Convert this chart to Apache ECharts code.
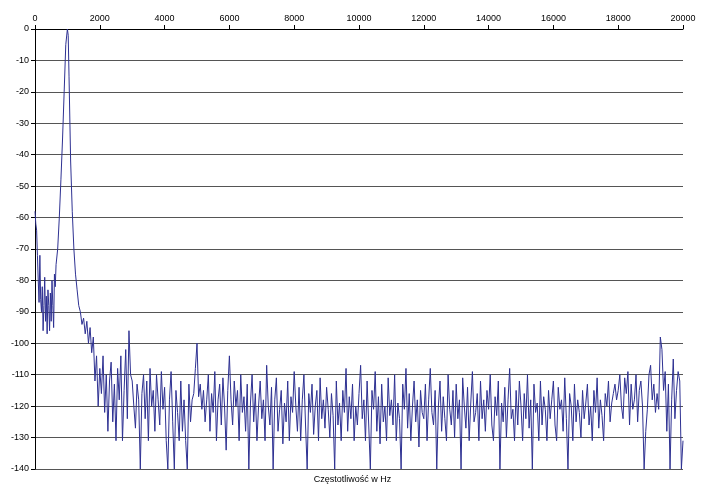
<!DOCTYPE html>
<html><head><meta charset="utf-8">
<script src="https://cdn.jsdelivr.net/npm/echarts@6/dist/echarts.min.js"></script>
<style>html,body{margin:0;padding:0;background:#fff}#c{width:705px;height:485px}</style>
</head><body><div id="c"></div>
<script>
const xTicks = [0,2000,4000,6000,8000,10000,12000,14000,16000,18000,20000];
const yTicks = [0,-10,-20,-30,-40,-50,-60,-70,-80,-90,-100,-110,-120,-130,-140];
// low-frequency section (Hz, dB)
const lowFreq = [0,25,50,75,100,125,150,175,200,225,250,275,300,325,350,375,400,425,450,475,500,525,550,575,600,625,650,700,750,800,850,900,950,1000,1025,1050,1100,1150,1200,1250,1300,1350,1400,1450,1500,1550,1600,1650,1700,1750,1800,1850,1900,1950];
const lowAmp = [-58,-62,-64,-72,-80,-87,-72,-86,-90,-82,-96,-88,-79,-93,-85,-97,-83,-88,-96,-84,-93,-80,-88,-95,-78,-82,-75,-70,-60,-48,-35,-20,-5,0,-2,-15,-42,-58,-70,-78,-83,-88,-90,-94,-92,-97,-93,-100,-95,-103,-98,-112,-104,-120];
// noise floor from 2000 Hz, step 50 Hz
const floorStart = 2000, floorStep = 50;
const floorAmp = [
-108,-116,-104,-122,-110,-128,-112,-106,-125,-113,-131,-108,-118,-104,-131,-115,-102,-124,-96,-110,
-112,-120,-127,-113,-118,-140,-116,-110,-124,-112,-131,-108,-120,-115,-128,-110,-118,-126,-109,-121,
-114,-131,-140,-118,-109,-125,-140,-115,-122,-131,-112,-128,-118,-131,-140,-113,-125,-118,-116,-108,
-100,-117,-113,-121,-115,-125,-118,-110,-128,-116,-122,-109,-131,-118,-113,-126,-111,-120,-134,-115,
-104,-118,-126,-112,-120,-115,-131,-110,-122,-117,-128,-113,-140,-119,-110,-125,-116,-131,-120,-112,
-124,-118,-131,-107,-120,-126,-114,-140,-118,-111,-128,-121,-115,-132,-119,-125,-112,-131,-117,-122,
-109,-120,-128,-114,-131,-118,-110,-126,-140,-116,-122,-113,-129,-120,-115,-131,-111,-124,-118,-127,
-114,-121,-130,-116,-123,-140,-112,-126,-119,-131,-115,-122,-108,-128,-117,-124,-113,-131,-120,-126,
-116,-107,-124,-118,-131,-112,-126,-140,-115,-121,-109,-128,-117,-132,-113,-125,-120,-131,-111,-123,
-118,-126,-110,-131,-119,-124,-140,-113,-121,-108,-127,-116,-131,-120,-112,-125,-118,-133,-115,-122,
-124,-113,-131,-118,-108,-122,-126,-115,-140,-120,-112,-128,-117,-124,-131,-110,-121,-126,-115,-130,
-113,-124,-118,-140,-111,-120,-127,-114,-131,-119,-109,-125,-122,-116,-131,-112,-124,-118,-128,-115,
-121,-110,-126,-131,-117,-123,-112,-140,-119,-125,-114,-130,-118,-108,-124,-121,-131,-115,-126,-112,
-120,-131,-116,-124,-110,-127,-118,-140,-113,-122,-119,-131,-112,-126,-117,-121,-131,-115,-124,-118,
-112,-126,-131,-114,-121,-118,-128,-111,-124,-140,-116,-120,-131,-113,-125,-118,-122,-130,-115,-124,
-119,-113,-126,-120,-131,-115,-122,-111,-127,-118,-123,-131,-116,-120,-112,-125,-119,-116,-113,-118,
-115,-110,-120,-124,-111,-116,-109,-126,-113,-121,-118,-110,-125,-115,-112,-120,-140,-128,-121,-110,
-107,-118,-113,-122,-116,-121,-98,-102,-115,-109,-128,-113,-140,-118,-105,-124,-115,-109,-112,-140,
-131];
const freq = lowFreq.slice();
const amp = lowAmp.slice();
floorAmp.forEach((v,i)=>{freq.push(floorStart+i*floorStep);amp.push(v);});
const data = freq.map((f,i)=>[f,amp[i]]);

const chart = echarts.init(document.getElementById('c'));
const font = 'Liberation Sans, Arial, sans-serif';
chart.setOption({
  animation:false,
  grid:{left:35,right:22,top:29,bottom:16,containLabel:false,outerBoundsMode:'none'},
  title:{text:'Częstotliwość w Hz',left:'center',top:470,textStyle:{fontSize:9,fontWeight:'normal',color:'#000',fontFamily:font}},
  xAxis:{type:'value',position:'top',min:0,max:20000,interval:2000,
    axisLine:{onZero:false,lineStyle:{color:'#000'}},axisTick:{show:true,length:4,lineStyle:{color:'#000'}},
    axisLabel:{color:'#000',fontSize:9,fontFamily:font,margin:6,formatter:v=>String(v)},splitLine:{show:false}},
  yAxis:{type:'value',min:-140,max:0,interval:10,
    name:'Amplituda w dB',nameLocation:'middle',nameGap:24,nameRotate:90,
    nameTextStyle:{color:'#000',fontSize:9,fontFamily:font},
    axisLine:{show:true,lineStyle:{color:'#000'}},axisTick:{show:true,length:4,lineStyle:{color:'#000'}},
    axisLabel:{color:'#000',fontSize:9,fontFamily:font,margin:6},
    splitLine:{show:true,lineStyle:{color:'#555',width:1}}},
  series:[{type:'line',data:data,showSymbol:false,lineStyle:{color:'#2e3192',width:1},clip:true}]
});
</script></body></html>
